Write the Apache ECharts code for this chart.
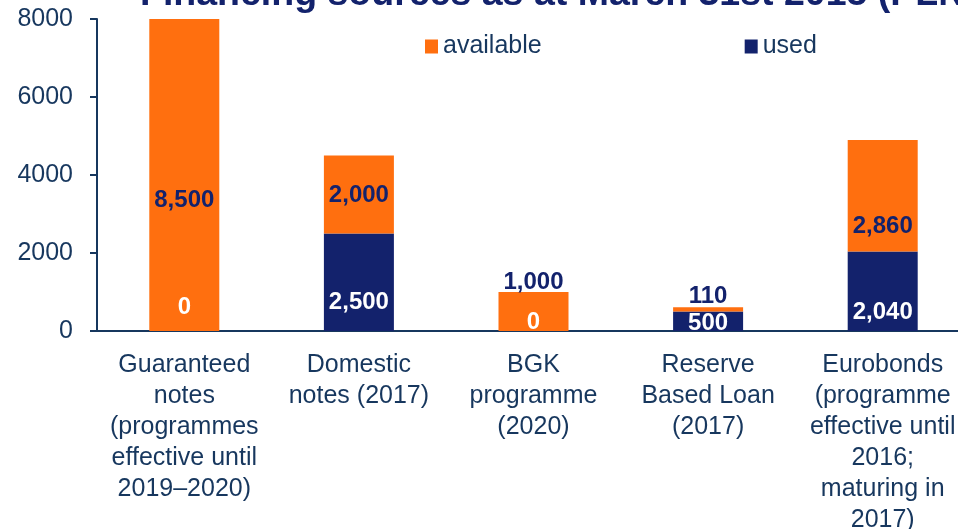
<!DOCTYPE html>
<html>
<head>
<meta charset="utf-8">
<script src="https://cdn.jsdelivr.net/npm/echarts@6/dist/echarts.min.js"></script>
<style>
  html, body { margin: 0; padding: 0; background: #fff; }
  #financing-chart { width: 958px; height: 529px; }
</style>
</head>
<body>
<div id="financing-chart"></div>
<script>
const categories = [
  'Guaranteed\nnotes\n(programmes\neffective until\n2019\u20132020)',
  'Domestic\nnotes (2017)',
  'BGK\nprogramme\n(2020)',
  'Reserve\nBased Loan\n(2017)',
  'Eurobonds\n(programme\neffective until\n2016;\nmaturing in\n2017)'
]
const usedValues = [0, 2500, 0, 500, 2040]
const availableValues = [8500, 2000, 1000, 110, 2860]
const yTicks = [0, 2000, 4000, 6000, 8000]

// how far above each segment's base its value label sits (px)
const usedLabelLift = [24, 29, 9, 8, 19]
const availableLabelLift = [131, 38, 49, 15, 25]

const navy = '#13226c'
const orange = '#ff6f0f'
const axisColor = '#17375e'
const font = 'Liberation Sans, Arial, sans-serif'

function withLabels(values, lifts, color) {
  return values.map((v, i) => ({
    value: v,
    label: { distance: lifts[i], color: color }
  }))
}

let option = {
  animation: false,
  title: {
    text: 'Financing sources as at March 31st 2015 (PLN m)',
    left: 140,
    top: -24,
    padding: 0,
    textStyle: {
      fontFamily: font,
      fontSize: 37.5,
      fontWeight: 'bold',
      color: navy
    }
  },
  legend: {
    data: ['available', 'used'],
    left: 420,
    top: 29,
    itemGap: 203,
    itemWidth: 13,
    itemHeight: 14,
    icon: 'rect',
    textStyle: {
      fontFamily: font,
      fontSize: 25,
      color: axisColor
    }
  },
  grid: {
    left: 97,
    right: -12,
    top: 19,
    bottom: 198,
    containLabel: false,
    outerBoundsMode: 'none'
  },
  xAxis: {
    type: 'category',
    data: categories,
    axisLine: { lineStyle: { color: axisColor, width: 2 } },
    axisTick: { length: 7, lineStyle: { color: axisColor, width: 2 } },
    axisLabel: {
      interval: 0,
      margin: 19,
      fontFamily: font,
      fontSize: 25,
      lineHeight: 31,
      color: axisColor
    }
  },
  yAxis: {
    type: 'value',
    min: yTicks[0],
    max: yTicks[yTicks.length - 1],
    interval: yTicks[1] - yTicks[0],
    splitLine: { show: false },
    axisLine: { show: true, lineStyle: { color: axisColor, width: 2 } },
    axisTick: { show: true, length: 7, lineStyle: { color: axisColor, width: 2 } },
    axisLabel: {
      margin: 24,
      fontFamily: font,
      fontSize: 25,
      color: axisColor,
      formatter: v => String(v)
    }
  },
  series: [
    {
      name: 'used',
      type: 'bar',
      stack: 'total',
      barWidth: 70,
      itemStyle: { color: navy },
      label: {
        show: true,
        position: 'insideBottom',
        verticalAlign: 'middle',
        fontFamily: font,
        fontSize: 24,
        fontWeight: 'bold',
        formatter: p => p.value.toLocaleString('en-US')
      },
      data: withLabels(usedValues, usedLabelLift, '#ffffff')
    },
    {
      name: 'available',
      type: 'bar',
      stack: 'total',
      barWidth: 70,
      itemStyle: { color: orange },
      label: {
        show: true,
        position: 'insideBottom',
        verticalAlign: 'middle',
        fontFamily: font,
        fontSize: 24,
        fontWeight: 'bold',
        formatter: p => p.value.toLocaleString('en-US')
      },
      data: withLabels(availableValues, availableLabelLift, navy)
    }
  ]
}

let myChart = echarts.init(document.getElementById('financing-chart'))
myChart.setOption(option)
</script>
</body>
</html>
